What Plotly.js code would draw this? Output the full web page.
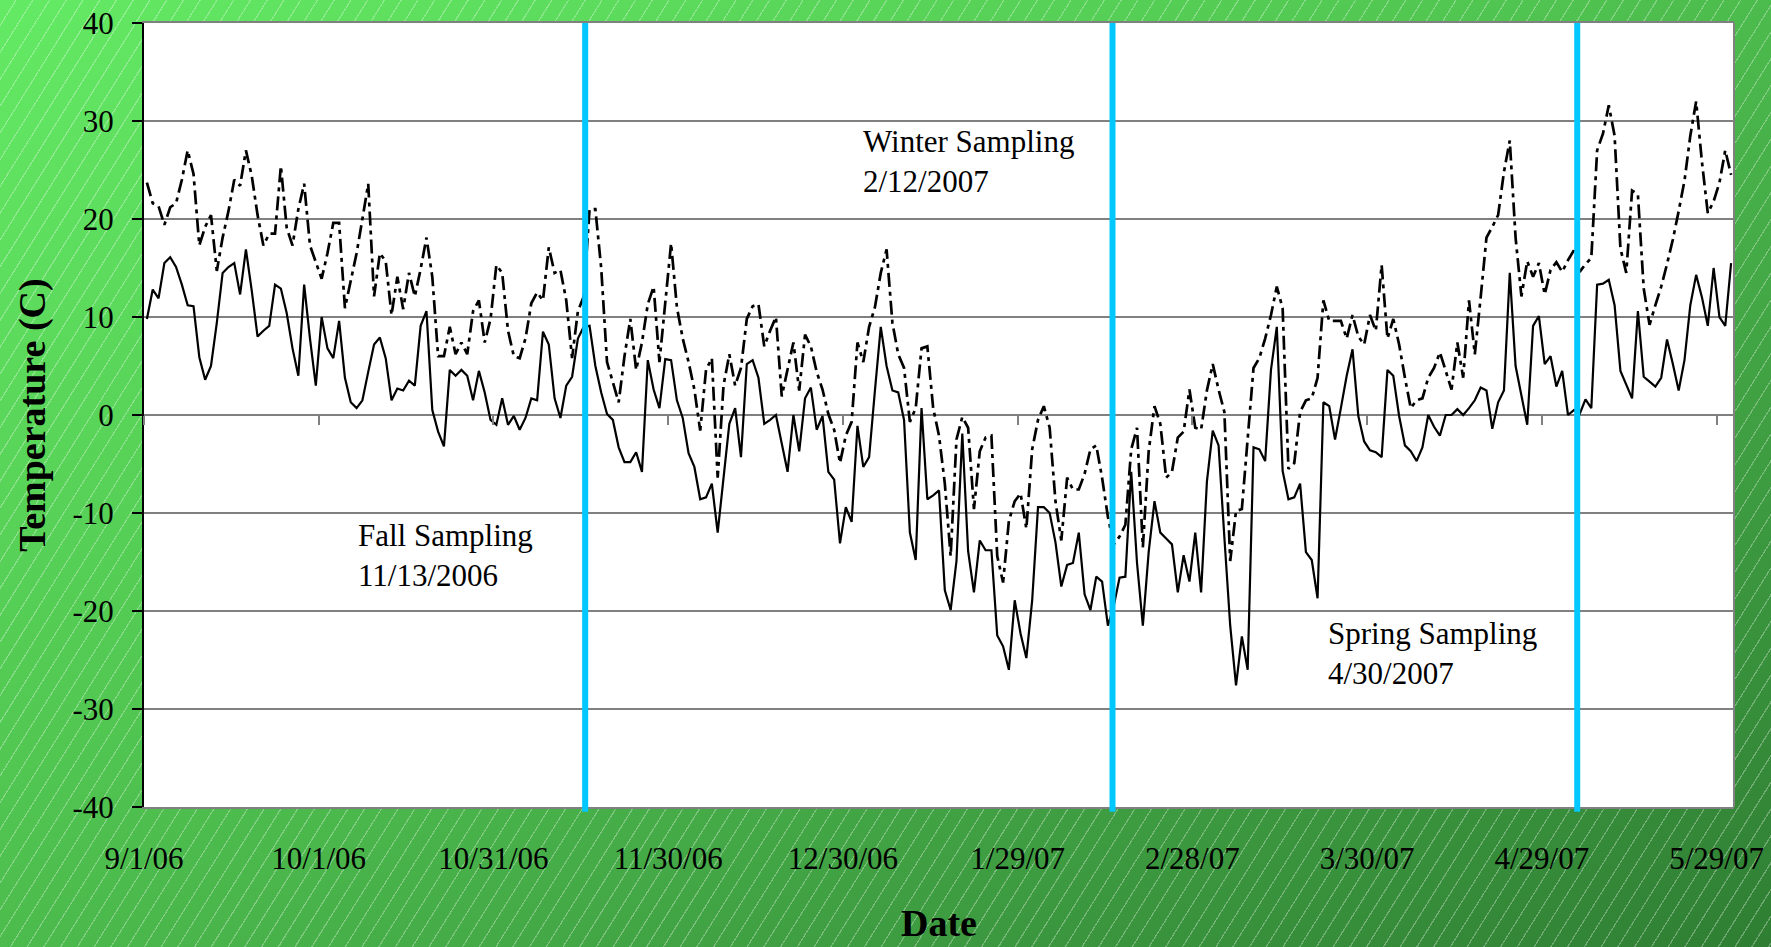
<!DOCTYPE html>
<html>
<head>
<meta charset="utf-8">
<script src="https://cdn.plot.ly/plotly-3.0.1.min.js"></script>
<style>
html, body { margin: 0; padding: 0; width: 1771px; height: 947px; overflow: hidden; }
body {
  background:
    repeating-linear-gradient(122deg, rgba(255,255,255,0) 0px, rgba(255,255,255,0) 13px, rgba(255,255,255,0.30) 13px, rgba(255,255,255,0.30) 14.2px),
    linear-gradient(to bottom right, #64ea64 0%, #52c852 40%, #3f9f42 72%, #2f7e33 100%);
}
#chart { width: 1771px; height: 947px; }
</style>
</head>
<body>
<div id="chart"></div>
<script>
// ---- data ----
const startDate = '2006-09-01';   // first daily value
const solidSeries = [
 9.8,12.8,11.9,15.5,16.1,15.1,13.3,11.2,11.1,5.9, 3.6,5.0,9.4,14.5,15.1,15.5,12.3,16.9,12.7,8.0,
 8.6,9.1,13.3,12.9,10.4,6.8,4.0,13.3,7.8,3.0, 10.0,6.8,5.8,9.6,3.8,1.3,0.7,1.5,4.4,7.2,
 7.9,5.8,1.5,2.7,2.5,3.5,3.0,9.1,10.6,0.5, -1.7,-3.2,4.6,4.0,4.6,4.0,1.5,4.5,2.3,-0.5,
 -1.0,1.7,-1.0,-0.1,-1.5,-0.3,1.7,1.5,8.5,7.2, 1.7,-0.3,3.0,3.9,7.8,9.0,9.1,5.0,2.3,0.1,
 -0.5,-3.3,-4.8,-4.8,-3.8,-5.8,5.6,2.6,0.7,5.7, 5.6,1.5,-0.3,-3.9,-5.3,-8.6,-8.4,-7.0,-12.0,-6.4,
 -0.9,0.7,-4.3,5.2,5.6,3.8,-0.9,-0.5,0.0,-2.9, -5.8,0.0,-3.7,1.7,2.8,-1.5,-0.1,-5.8,-6.6,-13.1,
 -9.4,-10.9,-1.1,-5.3,-4.3,2.5,9.0,5.0,2.5,2.3, -0.5,-12.0,-14.8,0.7,-8.6,-8.2,-7.7,-17.9,-19.9,-14.9,
 -1.9,-13.9,-18.1,-12.8,-13.8,-13.8,-22.5,-23.6,-26.0,-18.9, -22.3,-24.8,-18.9,-9.4,-9.4,-10.0,-13.0,-17.5,-15.3,-15.1,
 -12.0,-18.3,-19.9,-16.5,-17.0,-21.5,-19.5,-16.6,-16.5,-5.8, -15.1,-21.5,-14.0,-8.8,-12.0,-12.6,-13.2,-18.1,-14.3,-17.0,
 -12.0,-18.1,-6.8,-1.6,-3.1,-12.5,-21.5,-27.6,-22.6,-26.0, -3.3,-3.5,-4.7,4.6,9.0,-5.7,-8.6,-8.4,-7.0,-14.0,
 -14.8,-18.7,1.3,0.9,-2.5,0.7,4.0,6.7,-0.1,-2.7, -3.6,-3.8,-4.3,4.6,4.0,-0.1,-3.1,-3.7,-4.7,-3.3,
 0.0,-1.2,-2.1,0.0,0.0,0.6,0.0,0.7,1.5,2.8, 2.5,-1.4,1.3,2.5,14.5,5.0,2.1,-1.0,9.1,10.1,
 5.2,6.0,2.9,4.5,0.0,0.5,0.1,1.6,0.7,13.3, 13.4,13.8,11.2,4.5,3.1,1.7,10.6,3.9,3.4,2.9,
 3.8,7.7,5.2,2.5,5.6,11.2,14.3,12.0,9.1,15.0, 10.0,9.1,15.5
];
const dashSeries = [
 23.7,21.6,21.3,19.4,21.2,21.6,24.0,27.0,24.6,17.3, 19.2,20.4,14.7,18.1,20.8,24.0,23.4,27.0,24.4,20.4,
 17.3,18.5,18.5,25.4,19.1,17.3,21.0,23.6,17.3,15.5, 13.9,16.5,19.6,19.6,10.9,13.7,16.5,20.0,23.6,12.1,
 16.5,15.7,10.2,14.1,10.8,14.5,12.1,14.9,18.1,14.1, 6.0,6.0,9.0,6.2,7.4,6.2,10.6,11.7,7.4,9.8,
 15.3,14.5,8.6,6.0,5.8,7.8,11.4,12.5,11.7,17.1, 14.5,14.8,11.7,5.8,10.6,12.1,21.0,21.0,15.0,5.4,
 3.4,1.3,6.0,9.8,4.6,7.4,11.3,13.1,5.4,11.7, 17.5,11.0,7.8,5.4,2.6,-1.6,4.6,5.8,-6.4,3.0,
 6.2,3.0,4.8,9.8,11.1,11.3,7.0,8.6,10.0,1.9, 4.6,7.4,2.5,8.2,7.0,4.4,2.6,0.1,-1.5,-4.9,
 -2.1,-0.7,7.4,5.4,9.0,11.0,14.5,16.9,9.4,6.2, 4.8,-0.7,0.7,6.8,7.0,0.7,-2.1,-7.0,-14.4,-2.5,
 -0.2,-1.3,-9.6,-3.7,-2.3,-2.1,-14.4,-17.1,-10.8,-8.8, -8.0,-11.6,-3.5,-0.5,0.9,-1.3,-8.8,-12.8,-6.4,-7.6,
 -7.6,-6.0,-3.5,-3.1,-6.4,-10.4,-13.2,-12.4,-11.2,-3.5, -1.3,-13.5,-3.7,0.9,-0.9,-6.4,-5.8,-2.3,-1.7,2.6,
 -1.3,-1.5,2.5,5.2,2.6,0.3,-14.9,-9.8,-9.6,-2.5, 4.8,5.8,7.8,10.2,13.1,10.9,-5.5,-4.9,0.3,1.5,
 1.7,3.8,11.7,9.6,9.6,9.6,7.8,10.2,8.0,7.2, 10.2,8.6,15.3,7.8,9.8,7.2,3.8,0.7,1.5,1.7,
 3.8,4.8,6.4,4.6,2.6,7.4,3.8,11.7,6.2,12.0, 18.1,19.2,20.4,24.8,28.0,18.1,12.1,15.7,14.1,15.5,
 12.3,14.8,15.6,14.6,15.8,16.8,14.6,15.4,16.0,27.0, 28.7,31.6,28.5,17.0,14.5,22.9,22.5,12.9,9.2,11.2,
 13.1,15.4,17.9,20.8,23.9,28.5,32.0,25.8,20.6,21.8, 23.7,27.0,24.5
];
const xTickVals = ['2006-09-01','2006-10-01','2006-10-31','2006-11-30','2006-12-30','2007-01-29','2007-02-28','2007-03-30','2007-04-29','2007-05-29'];
const xTickText = ['9/1/06','10/1/06','10/31/06','11/30/06','12/30/06','1/29/07','2/28/07','3/30/07','4/29/07','5/29/07'];
const yTickVals = [-40,-30,-20,-10,0,10,20,30,40];
const yTickText = ['-40','-30','-20','-10','0','10','20','30','40'];
const xRange = ['2006-09-01','2007-06-01'];
const samplingLines = ['2006-11-15 18:00','2007-02-14 07:00','2007-05-05 02:00'];
const samplingLabels = ['Fall Sampling<br>11/13/2006','Winter Sampling<br>2/12/2007','Spring Sampling<br>4/30/2007'];

// daily x positions (each value centred in its day, as on an Excel date axis)
function pad(n){ return (n < 10 ? '0' : '') + n; }
const base = new Date(startDate + 'T00:00:00Z').getTime();
const dates = solidSeries.map((_, i) => {
  const d = new Date(base + i * 86400000);
  return d.getUTCFullYear() + '-' + pad(d.getUTCMonth() + 1) + '-' + pad(d.getUTCDate()) + ' 12:00';
});

const FONT = '"Liberation Serif", "Times New Roman", Times, serif';

const traces = [
  { x: dates, y: dashSeries, type: 'scatter', mode: 'lines',
    line: { color: '#000000', width: 2.7, dash: '14px,5px,4px,5px' }, hoverinfo: 'x+y' },
  { x: dates, y: solidSeries, type: 'scatter', mode: 'lines',
    line: { color: '#000000', width: 2.2 }, hoverinfo: 'x+y' },
  { x: dates, y: solidSeries, xaxis: 'x2', yaxis: 'y', type: 'scatter', mode: 'lines',
    line: { width: 0 }, opacity: 0, hoverinfo: 'skip' }
];

const lineShapes = samplingLines.map(d => ({
  type: 'line', xref: 'x', yref: 'paper', x0: d, x1: d, y0: -0.006, y1: 1,
  line: { color: '#00c8ff', width: 6 }, layer: 'above'
}));

const labelPos = [
  { x: 0.1336, y: 0.3205 },
  { x: 0.451, y: 0.823 },
  { x: 0.7434, y: 0.1955 }
];

const layout = {
  width: 1771, height: 947,
  paper_bgcolor: 'rgba(0,0,0,0)', plot_bgcolor: '#ffffff',
  margin: { l: 144, r: 37, t: 23, b: 140, pad: 0 },
  showlegend: false,
  font: { family: FONT, color: '#000000' },
  xaxis: {
    type: 'date', range: xRange, tickmode: 'array', tickvals: xTickVals, ticktext: xTickText,
    ticks: 'outside', ticklen: 23, tickcolor: 'rgba(0,0,0,0)',
    showgrid: false, zeroline: false, showline: true, linecolor: '#808080', linewidth: 2, mirror: true,
    tickfont: { family: FONT, size: 31, color: '#000' },
    title: { text: 'Date', font: { family: FONT, size: 38, weight: 'bold', color: '#000' }, standoff: 34 }
  },
  xaxis2: {
    type: 'date', overlaying: 'x', anchor: 'free', position: 0.5, range: xRange,
    tickmode: 'array', tickvals: xTickVals, ticks: 'outside', ticklen: 9, tickwidth: 1.5, tickcolor: '#808080',
    showticklabels: false, showgrid: false, zeroline: false, showline: false
  },
  yaxis: {
    range: [-40, 40], tickmode: 'array', tickvals: yTickVals, ticktext: yTickText,
    ticks: 'outside', ticklen: 10, tickwidth: 1.5, tickcolor: '#000',
    showgrid: true, gridcolor: '#808080', gridwidth: 1.5, zeroline: false,
    showline: true, linecolor: '#000', linewidth: 2,
    tickfont: { family: FONT, size: 31, color: '#000' }, ticklabelstandoff: 12,
    title: { text: 'Temperature (C)', font: { family: FONT, size: 38, weight: 'bold', color: '#000' }, standoff: 15 }
  },
  shapes: lineShapes.concat([
    { type: 'line', xref: 'paper', yref: 'paper', x0: 1, x1: 1, y0: 0, y1: 1, line: { color: '#808080', width: 2 } }
  ]),
  annotations: samplingLabels.map((t, i) => ({
    text: t, xref: 'paper', yref: 'paper', x: labelPos[i].x, y: labelPos[i].y,
    xanchor: 'left', yanchor: 'middle', align: 'left', showarrow: false,
    font: { family: FONT, size: 31, color: '#000' }
  }))
};

Plotly.newPlot('chart', traces, layout, { displayModeBar: false, responsive: false });
</script>
</body>
</html>
